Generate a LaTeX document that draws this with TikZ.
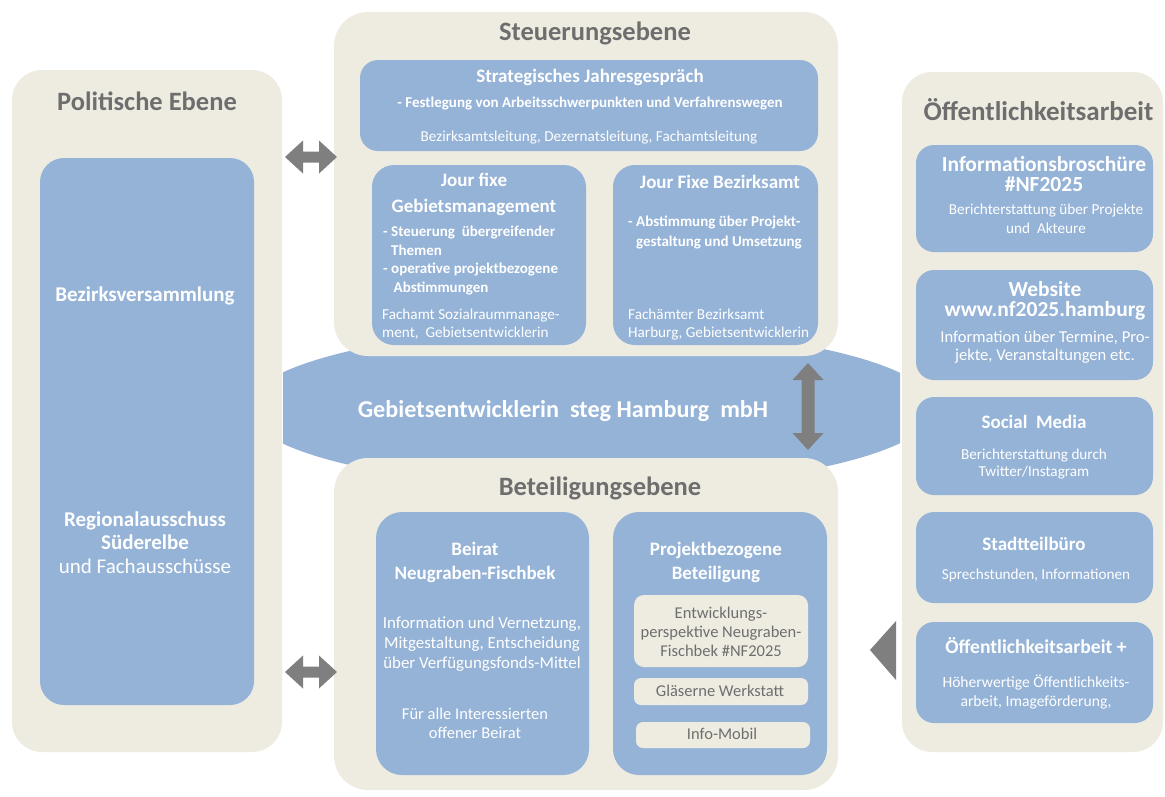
\documentclass[tikz,border=0pt]{standalone}
\usepackage{fontspec}
\setmainfont{Carlito}
\usetikzlibrary{shapes.geometric}
\definecolor{beige}{HTML}{EEECE1}
\definecolor{bluefill}{HTML}{95B3D7}
\definecolor{titlegray}{HTML}{6E6E6E}
\definecolor{arrowgray}{HTML}{7F7F7F}
\newcommand\myfs[2]{\fontsize{#1}{#2}\selectfont}
\begin{document}
\begin{tikzpicture}[x=1pt,y=-1pt,
  panel/.style={fill=beige, rounded corners=30, inner sep=0, draw=none},
  bbox/.style={fill=bluefill, rounded corners=18, inner sep=0, draw=none},
  gbox/.style={fill=beige, rounded corners=7, inner sep=0, draw=none},
  T/.style={inner sep=0, text depth=0pt},
  ptitle/.style={T, text=titlegray, font=\myfs{26.5}{30}\bfseries, text height=15.9pt},
  htitle/.style={T, text=white, align=center, font=\myfs{19}{#1}\bfseries, text height=11.4pt},
  htitle/.default=24,
  bigtitle/.style={T, text=white, align=center, font=\myfs{21.5}{20}\bfseries, text height=12.9pt},
  bul/.style={T, text=white, align=left, font=\myfs{15}{#1}\bfseries, text height=9pt},
  bul/.default=18.7,
  body/.style={T, text=white, align=center, font=\myfs{15.2}{#1}, text height=9.1pt},
  body/.default=19,
  gtext/.style={T, text=titlegray, align=center, font=\myfs{16.5}{#1}, text height=9.9pt},
  gtext/.default=19,
  harrow/.pic={\fill[arrowgray] (-26,0) -- (-8,-16.5) -- (-8,-5.5) -- (8,-5.5) -- (8,-16.5) -- (26,0)
     -- (8,16.5) -- (8,5.5) -- (-8,5.5) -- (-8,16.5) -- cycle;},
  varrow/.pic={\fill[arrowgray] (0,-43.5) -- (15.5,-26.5) -- (6.5,-26.5) -- (6.5,26.5) -- (15.5,26.5) -- (0,43.5)
     -- (-15.5,26.5) -- (-6.5,26.5) -- (-6.5,-26.5) -- (-15.5,-26.5) -- cycle;}
]
\useasboundingbox (0,0) rectangle (1165,796);
\fill[white] (0,0) rectangle (1165,796);

% central ellipse
\begin{scope}
  \clip (283,0) rectangle (900,796);
  \node[ellipse, fill=bluefill, minimum width=688, minimum height=160, inner sep=0] (geb) at (591,408) {};
\end{scope}

% panels
\node[panel, minimum width=270, minimum height=682] (pol) at (147,411) {};
\node[panel, rounded corners=34, minimum width=504, minimum height=344] (steu) at (586,184) {};
\node[panel, rounded corners=34, minimum width=504, minimum height=332] (bet) at (586,624) {};
\node[panel, minimum width=261, minimum height=680] (oeff) at (1032.5,412) {};

% left (multi-line nodes: y is the last line)
\node[bbox, rounded corners=24, minimum width=214, minimum height=547] (bv) at (147,431.5) {};
\node[ptitle] (polT) at (147,103) {Politische Ebene};
\node[T, text=white, font=\myfs{21}{23.5}\bfseries, text height=12.6pt] (bvT) at (145,295) {Bezirksversammlung};
\node[T, text=white, align=center, font=\myfs{21}{23.5}, text height=12.6pt] (raT) at (145,567)
  {\textbf{Regionalausschuss}\\\textbf{Süderelbe}\\und Fachausschüsse};

% Steuerungsebene
\node[ptitle] (steuT) at (595,33) {Steuerungsebene};
\node[bbox, minimum width=458, minimum height=91] (sj) at (589,105.5) {};
\node[htitle] (sjT) at (590,77) {Strategisches Jahresgespräch};
\node[bul, align=center] (sjB) at (590,103) {- Festlegung von Arbeitsschwerpunkten und Verfahrenswegen};
\node[body] (sjN) at (589,137) {Bezirksamtsleitung, Dezernatsleitung, Fachamtsleitung};

\node[bbox, rounded corners=22, minimum width=214, minimum height=180] (jfg) at (479,255) {};
\node[htitle=26] (jfgT) at (474,207) {Jour fixe\\Gebietsmanagement};
\node[bul, anchor=west] (jfgB) at (383,288) {- Steuerung\ \ übergreifender\\\phantom{- }Themen\\- operative projektbezogene\\\phantom{- }\,Abstimmungen};
\node[body=18, anchor=west, align=left] (jfgN) at (382,333) {Fachamt Sozialraummanage-\\ment,\ \ Gebietsentwicklerin};

\node[bbox, rounded corners=22, minimum width=205, minimum height=180] (jfb) at (715.5,255) {};
\node[htitle] (jfbT) at (720,183) {Jour Fixe Bezirksamt};
\node[bul=20, anchor=west] (jfbB) at (628,242) {- Abstimmung über Projekt-\\\phantom{- }gestaltung und Umsetzung};
\node[body=18, anchor=west, align=left] (jfbN) at (628,333) {Fachämter Bezirksamt\\Harburg, Gebietsentwicklerin};

% Gebietsentwicklerin
\node[T, text=white, font=\myfs{24.2}{26}\bfseries, text height=14.5pt] (gebT) at (563,410) {Gebietsentwicklerin\ \ steg Hamburg\ \ mbH};

% Beteiligungsebene
\node[ptitle] (betT) at (600,488) {Beteiligungsebene};
\node[bbox, rounded corners=26, minimum width=213, minimum height=263] (beir) at (482.5,643.5) {};
\node[htitle] (beirT) at (475,574) {Beirat\\Neugraben-Fischbek};
\node[T, text=white, align=center, font=\myfs{16.9}{20}, text height=10.1pt] (beirB) at (482,663) {Information und Vernetzung,\\Mitgestaltung, Entscheidung\\über Verfügungsfonds-Mittel};
\node[T, text=white, align=center, font=\myfs{16.5}{19}, text height=9.9pt] (beirC) at (475,734) {Für alle Interessierten\\offener Beirat};

\node[bbox, rounded corners=26, minimum width=214, minimum height=263] (proj) at (720,643.5) {};
\node[htitle] (projT) at (716,574) {Projektbezogene\\Beteiligung};
\node[gbox, rounded corners=10, minimum width=174, minimum height=72] (entw) at (721,631) {};
\node[gtext] (entwT) at (721,652) {Entwicklungs-\\perspektive Neugraben-\\Fischbek \#NF2025};
\node[gbox, minimum width=174, minimum height=27] (glas) at (721,691.5) {};
\node[gtext] (glasT) at (720,692) {Gläserne Werkstatt};
\node[gbox, minimum width=174, minimum height=26] (imob) at (723,735) {};
\node[gtext] (imobT) at (722,735) {Info-Mobil};

% Öffentlichkeitsarbeit
\node[T, text=titlegray, font=\myfs{27}{30}\bfseries, text height=16.2pt] (oeffT) at (1038.5,112) {Öffentlichkeitsarbeit};
\node[bbox, minimum width=237, minimum height=107] (ib) at (1034.5,198.5) {};
\node[bigtitle] (ibT) at (1044,185) {Informationsbroschüre\\\#NF2025};
\node[body] (ibB) at (1046,229) {Berichterstattung über Projekte\\und\ \ Akteure};
\node[bbox, minimum width=237, minimum height=110] (web) at (1034.5,325) {};
\node[bigtitle] (webT) at (1045,310) {Website\\www.nf2025.hamburg};
\node[T, text=white, align=center, font=\myfs{16.6}{18}, text height=10pt] (webB) at (1045,355) {Information über Termine, Pro-\\jekte, Veranstaltungen etc.};
\node[bbox, minimum width=237, minimum height=98] (soc) at (1034.5,446) {};
\node[htitle] (socT) at (1034,423) {Social\ \ Media};
\node[body=17.5] (socB) at (1034,472) {Berichterstattung durch\\Twitter/Instagram};
\node[bbox, minimum width=237, minimum height=91] (stb) at (1034.5,557.5) {};
\node[htitle] (stbT) at (1034,545) {Stadtteilbüro};
\node[body] (stbB) at (1036,575) {Sprechstunden, Informationen};
\node[bbox, minimum width=237, minimum height=101] (oplus) at (1034.5,672.5) {};
\node[T, text=white, font=\myfs{19.6}{22}\bfseries, text height=11.8pt] (oplusT) at (1036,648) {Öffentlichkeitsarbeit +};
\node[T, text=white, align=center, font=\myfs{15.6}{19}, text height=9.4pt] (oplusB) at (1036,702) {Höherwertige Öffentlichkeits-\\arbeit, Imageförderung,};

% arrows
\pic at (311,157) {harrow};
\pic at (311,672) {harrow};
\pic at (808,406.5) {varrow};
\fill[arrowgray] (870,650) -- (896,621) -- (896,680) -- cycle;
\end{tikzpicture}
\end{document}
